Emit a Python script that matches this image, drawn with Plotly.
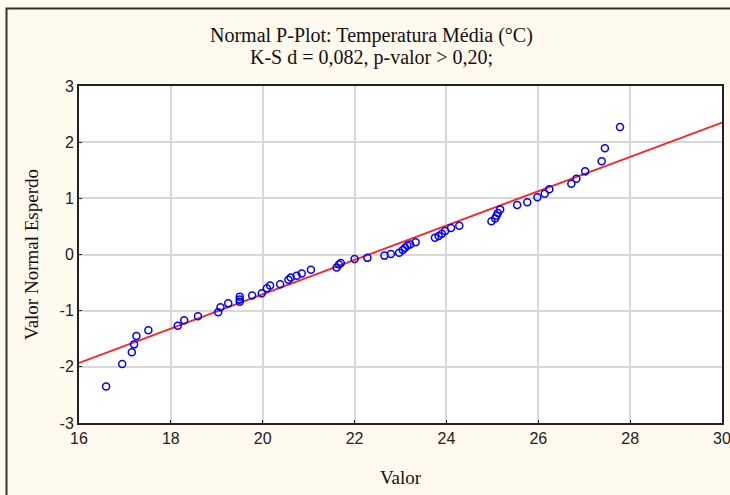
import plotly.graph_objects as go

valor = [16.59, 16.94, 17.15, 17.20, 17.25, 17.51, 18.15, 18.29, 18.59, 19.03,
         19.08, 19.25, 19.50, 19.50, 19.50, 19.77, 19.98, 20.09, 20.16, 20.38,
         20.56, 20.61, 20.74, 20.85, 21.05, 21.61, 21.66, 21.70, 22.00, 22.28,
         22.65, 22.79, 22.97, 23.05, 23.10, 23.15, 23.21, 23.33, 23.75, 23.83,
         23.90, 23.97, 24.10, 24.28, 24.98, 25.06, 25.09, 25.12, 25.17, 25.54,
         25.76, 25.98, 26.14, 26.24, 26.72, 26.83, 27.02, 27.38, 27.45, 27.78]
esperado = [-2.35, -1.95, -1.74, -1.60, -1.45, -1.35, -1.27, -1.17, -1.10, -1.03,
            -0.94, -0.87, -0.84, -0.80, -0.75, -0.73, -0.69, -0.60, -0.55, -0.53,
            -0.45, -0.41, -0.38, -0.34, -0.27, -0.23, -0.18, -0.15, -0.08, -0.06,
            -0.02, 0.01, 0.03, 0.08, 0.12, 0.16, 0.18, 0.22, 0.30, 0.33,
            0.37, 0.42, 0.47, 0.51, 0.59, 0.64, 0.69, 0.74, 0.80, 0.88,
            0.93, 1.02, 1.08, 1.16, 1.26, 1.35, 1.48, 1.66, 1.89, 2.27]

linha_x = [16, 30]
linha_y = [-1.93, 2.35]

x_ticks = [16, 18, 20, 22, 24, 26, 28, 30]
y_ticks = [-3, -2, -1, 0, 1, 2, 3]

title_lines = ["Normal P-Plot: Temperatura Média (°C)", "K-S d = 0,082, p-valor > 0,20;"]

fig = go.Figure()
fig.add_trace(go.Scatter(x=linha_x, y=linha_y, mode="lines",
                         line=dict(color="#ff2020", width=1.8), showlegend=False))
fig.add_trace(go.Scatter(x=valor, y=esperado, mode="markers",
                         marker=dict(symbol="circle-open", size=7, color="#0000ff",
                                     line=dict(width=1.5, color="#0000ff")),
                         showlegend=False))

L, R, T, B = 79, 8, 86, 72
W, H = 730, 495
pw, ph = W - L - R, H - T - B

def px(x):
    return (x - L) / pw

def py(y):
    return (H - B - y) / ph

serif = "Liberation Serif"
fig.update_layout(
    width=W, height=H,
    margin=dict(l=L, r=R, t=T, b=B, autoexpand=False),
    paper_bgcolor="#FFF9EE",
    plot_bgcolor="#ffffff",
    font=dict(family="Liberation Sans", color="#000000"),
    annotations=[
        dict(text=title_lines[0], xref="paper", yref="paper", x=px(371), y=py(35),
             yanchor="middle", xanchor="center",
             showarrow=False, font=dict(family=serif, size=20, color="#111")),
        dict(text=title_lines[1], xref="paper", yref="paper", x=px(371), y=py(57),
             yanchor="middle", xanchor="center",
             showarrow=False, font=dict(family=serif, size=20, color="#111")),
    ],
    shapes=[
        dict(type="rect", xref="paper", yref="paper", x0=px(6.5), x1=px(740),
             y0=py(505), y1=py(8.5), line=dict(color="#333333", width=2),
             fillcolor="rgba(0,0,0,0)", layer="below"),
    ],
)
fig.update_xaxes(range=[16, 30], tickvals=x_ticks, ticktext=[str(v) for v in x_ticks],
                 automargin=False, ticklabeloverflow="allow",
                 showgrid=True, gridcolor="#d8d8d8", gridwidth=2,
                 showline=True, linecolor="#222222", linewidth=2, mirror=True,
                 ticks="inside", ticklen=3, tickcolor="#222222", zeroline=False,
                 tickfont=dict(family="Liberation Sans", size=16, color="#222"),
                 title=dict(text="Valor", standoff=24,
                            font=dict(family=serif, size=19, color="#111")))
fig.update_yaxes(range=[-3, 3], tickvals=y_ticks, ticktext=[str(v) for v in y_ticks],
                 automargin=False, ticklabeloverflow="allow",
                 showgrid=True, gridcolor="#d8d8d8", gridwidth=2,
                 showline=True, linecolor="#222222", linewidth=2, mirror=True,
                 ticks="inside", ticklen=3, tickcolor="#222222", zeroline=False,
                 tickfont=dict(family="Liberation Sans", size=16, color="#222"),
                 title=dict(text="Valor Normal Esperdo", standoff=16,
                            font=dict(family=serif, size=19, color="#111")))

fig.write_html("out.html")
